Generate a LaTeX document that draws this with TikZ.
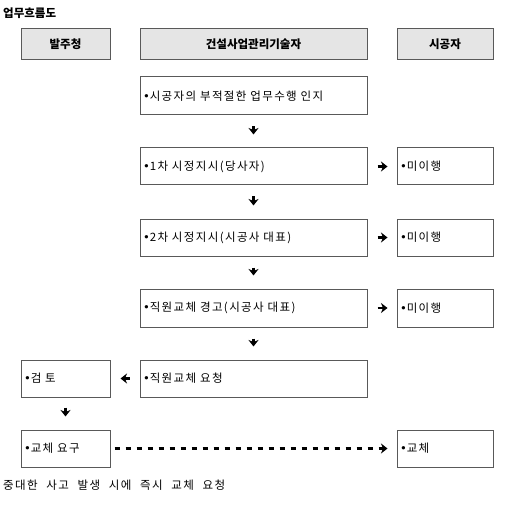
\documentclass[tikz,border=0pt]{standalone}
\usepackage{fontspec}
\setmainfont{Noto Sans CJK KR}
\newfontfamily\bodyfont[LetterSpace=12,WordSpace=2.2]{Noto Sans CJK KR}
\newfontfamily\dotfont{DejaVu Sans}
\newcommand{\bul}{{\dotfont •}}
\usetikzlibrary{arrows.meta}
\begin{document}
\begin{tikzpicture}[x=1pt,y=-1pt,
  font=\bodyfont\fontsize{11.5}{13}\selectfont,
  box/.style={draw=black!65, line width=1pt, rectangle, inner sep=0pt, minimum height=37pt},
  headbox/.style={box, fill=black!10, minimum height=31pt, font=\normalfont\fontsize{11.5}{13}\selectfont\bfseries},
  txt/.style={align=left, text width=#1, inner xsep=3pt},
  flow/.style={line width=2.6pt, -{Stealth[width=10pt,length=6.5pt,inset=2pt]}},
  dotflow/.style={line width=3pt, dash pattern=on 5pt off 6pt, -{Stealth[width=10pt,length=6.5pt,inset=2pt]}}
]
\useasboundingbox (0,0) rectangle (507,521);
\node[anchor=west, font=\normalfont\fontsize{11.5}{13}\selectfont\bfseries, inner sep=0pt] (title) at (3,13) {업무흐름도};
% headers
\node[headbox, minimum width=89pt] (h1) at (65.5,44.5) {발주청};
\node[headbox, minimum width=227pt] (h2) at (253.5,44.5) {건설사업관리기술자};
\node[headbox, minimum width=96pt] (h3) at (445,44.5) {시공자};
% middle column
\node[box, minimum width=227pt, minimum height=38pt, txt=221pt] (b1) at (253.5,96) {\bul{}시공자의 부적절한 업무수행 인지};
\node[box, minimum width=227pt, txt=221pt] (b2) at (253.5,166.5) {\bul{}1차 시정지시(당사자)};
\node[box, minimum width=227pt, txt=221pt] (b3) at (253.5,237.5) {\bul{}2차 시정지시(시공사 대표)};
\node[box, minimum width=227pt, minimum height=38pt, txt=221pt] (b4) at (253.5,308) {\bul{}직원교체 경고(시공사 대표)};
\node[box, minimum width=227pt, txt=221pt] (b5) at (253.5,378.5) {\bul{}직원교체 요청};
% right column
\node[box, minimum width=96pt, txt=90pt] (r2) at (445,166.5) {\bul{}미이행};
\node[box, minimum width=96pt, txt=90pt] (r3) at (445,237.5) {\bul{}미이행};
\node[box, minimum width=96pt, minimum height=38pt, txt=90pt] (r4) at (445,308) {\bul{}미이행};
\node[box, minimum width=96pt, txt=90pt] (r6) at (445,448.5) {\bul{}교체};
% left column
\node[box, minimum width=89pt, txt=83pt] (l5) at (65.5,378.5) {\bul{}검 토};
\node[box, minimum width=89pt, txt=83pt] (l6) at (65.5,448.5) {\bul{}교체 요구};
% caption
\node[anchor=west, inner sep=0pt] (cap) at (3,485) {중대한 사고 발생 시에 즉시 교체 요청};
% arrows
\draw[flow, shorten <=11pt, shorten >=13pt] (b1) -- (b2);
\draw[flow, shorten <=11pt, shorten >=13pt] (b2) -- (b3);
\draw[flow, shorten <=11pt, shorten >=13pt] (b3) -- (b4);
\draw[flow, shorten <=11pt, shorten >=13pt] (b4) -- (b5);
\draw[flow, shorten <=10pt, shorten >=9pt] (b2) -- (r2);
\draw[flow, shorten <=10pt, shorten >=9pt] (b3) -- (r3);
\draw[flow, shorten <=10pt, shorten >=9pt] (b4) -- (r4);
\draw[flow, shorten <=10pt, shorten >=10pt] (b5) -- (l5);
\draw[flow, shorten <=10pt, shorten >=13pt] (l5) -- (l6);
\draw[dotflow, shorten <=4pt, shorten >=9pt] (l6) -- (r6);
\end{tikzpicture}
\end{document}
